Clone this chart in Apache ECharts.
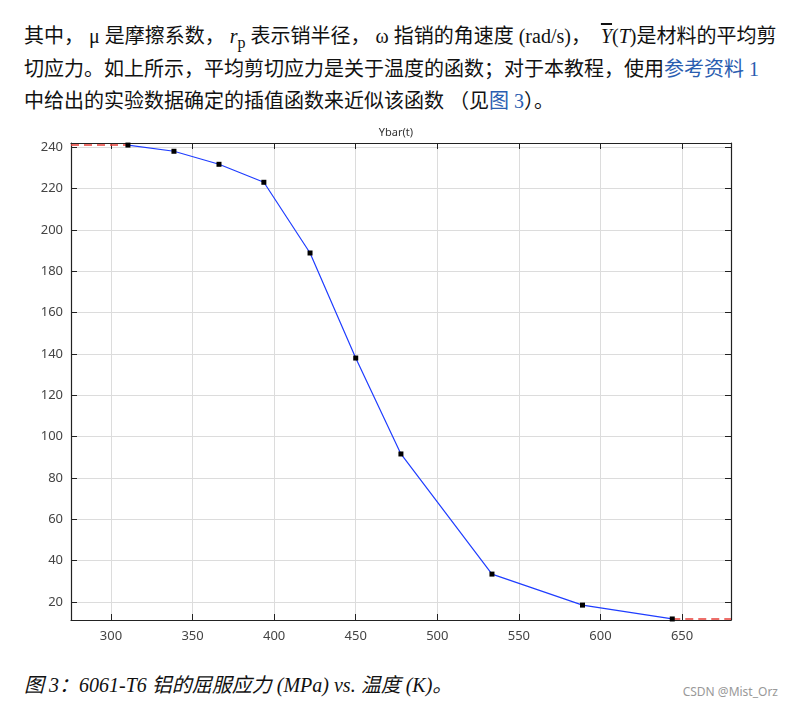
<!DOCTYPE html>
<html>
<head>
<meta charset="utf-8">
<script src="https://cdn.jsdelivr.net/npm/echarts@6/dist/echarts.min.js"></script>
<style>
  body { margin: 0; background: #fff; width: 792px; height: 706px; position: relative; overflow: hidden; }
  .txt { position: absolute; left: 24px; font-family: "Liberation Serif", "Noto Sans CJK SC", serif; font-size: 20px; color: #111; white-space: nowrap; }
  .lnk { color: #2a5db0; }
  #chart { position: absolute; left: 0; top: 120px; width: 792px; height: 530px; }
  .cap { position: absolute; left: 24px; top: 669px; font-family: "Liberation Serif", "Noto Sans CJK SC", serif; font-style: italic; font-size: 20px; color: #111; }
  .mark { position: absolute; right: 14px; top: 683px; font-family: "Noto Sans", sans-serif; font-size: 12px; color: #999; }
</style>
</head>
<body>
<div class="txt" style="top:20px">其中， μ 是摩擦系数， <i>r</i><sub style="font-size:16px">p</sub> 表示销半径， ω 指销的角速度 (rad/s)， &nbsp;<i style="text-decoration:overline">Y</i>(<i>T</i>)是材料的平均剪</div>
<div class="txt" style="top:53px">切应力。如上所示，平均剪切应力是关于温度的函数；对于本教程，使用<span class="lnk">参考资料 1</span></div>
<div class="txt" style="top:85px">中给出的实验数据确定的插值函数来近似该函数 （见<span class="lnk">图 3</span>）。</div>
<div id="chart"></div>
<div class="cap">图 3：6061-T6 铝的屈服应力 (MPa) vs. 温度 (K)。</div>
<div class="mark">CSDN @Mist_Orz</div>
<script>
// 实验数据点（温度 K，屈服应力 MPa）
const temps = [310.4, 338.6, 366.2, 393.7, 422, 450, 477.7, 533.5, 589, 644];
const stress = [241, 238, 231.7, 223, 188.8, 138, 91.6, 33.5, 18.5, 11.8];
const xTicks = [300, 350, 400, 450, 500, 550, 600, 650];
const yTicks = [20, 40, 60, 80, 100, 120, 140, 160, 180, 200, 220, 240];
const xMin = 275.5, xMax = 680;
const yMin = 11.3, yMax = 242;

const chart = echarts.init(document.getElementById('chart'));
const pts = temps.map((t, i) => [t, stress[i]]);
const axisLine = { show: true, lineStyle: { color: '#222', width: 1.2 } };
const tick = (vals) => ({ show: true, inside: true, length: 6, customValues: vals, lineStyle: { color: '#222' } });
const lbl = (vals, m) => ({ customValues: vals, margin: m, color: '#444', fontSize: 13, fontFamily: 'Noto Sans' });
const grid = { lineStyle: { color: '#dcdcdc' } };
chart.setOption({
    animation: false,
    title: { text: 'Ybar(t)', left: 'center', top: 2, textStyle: { fontSize: 11, fontWeight: 'normal', color: '#333', fontFamily: 'Noto Sans' } },
    grid: { left: 71, right: 61, top: 23, bottom: 30 },
    xAxis: [
        { type: 'value', min: xMin, max: xMax, axisLine, axisTick: tick(xTicks), axisLabel: lbl(xTicks, 10), splitLine: grid },
        { type: 'value', position: 'top', min: xMin, max: xMax, axisLine, axisTick: tick(xTicks), axisLabel: { show: false }, splitLine: { show: false } }
    ],
    yAxis: [
        { type: 'value', min: yMin, max: yMax, axisLine, axisTick: tick(yTicks), axisLabel: lbl(yTicks, 8), splitLine: grid },
        { type: 'value', position: 'right', min: yMin, max: yMax, axisLine, axisTick: tick(yTicks), axisLabel: { show: false }, splitLine: { show: false } }
    ],
    series: [
        { type: 'line', data: [[xMin, stress[0]], pts[0]], symbol: 'none', lineStyle: { color: '#e8403a', width: 1.5, type: [8, 5] } },
        { type: 'line', data: [pts[pts.length - 1], [xMax, stress[stress.length - 1]]], symbol: 'none', lineStyle: { color: '#e8403a', width: 1.5, type: [8, 5] } },
        { type: 'line', data: pts, symbol: 'rect', symbolSize: 5, itemStyle: { color: '#000' }, lineStyle: { color: '#1f3dff', width: 1.2 }, z: 5 }
    ]
});
</script>
</body>
</html>
